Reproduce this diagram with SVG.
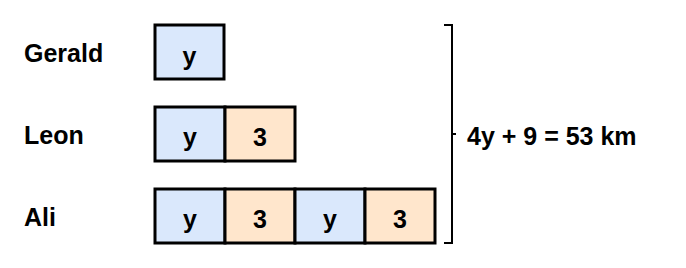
<svg xmlns="http://www.w3.org/2000/svg" width="686" height="268" viewBox="0 0 686 268">
<style>
.b{fill:#dae8fc;stroke:#000;stroke-width:3}
.o{fill:#ffe6cc;stroke:#000;stroke-width:3}
text{font-family:"Liberation Sans",Arial,sans-serif;font-weight:bold;font-size:25px;fill:#000}
.c{text-anchor:middle}
.br{fill:none;stroke:#000;stroke-width:2}
</style>
<rect width="686" height="268" fill="#fff"/>
<g id="gerald-label"><text x="24" y="62">Gerald</text></g>
<g id="leon-label"><text x="24" y="144">Leon</text></g>
<g id="ali-label"><text x="24" y="226">Ali</text></g>
<g id="gerald-y"><rect class="b" x="155" y="25" width="69" height="54"/><text class="c" x="189.5" y="65">y</text></g>
<g id="leon-y"><rect class="b" x="155" y="107" width="70" height="54"/><text class="c" x="190" y="146">y</text></g>
<g id="leon-3"><rect class="o" x="225" y="107" width="70" height="54"/><text class="c" x="260" y="146">3</text></g>
<g id="ali-y1"><rect class="b" x="155" y="189" width="70" height="54"/><text class="c" x="190" y="228">y</text></g>
<g id="ali-31"><rect class="o" x="225" y="189" width="70" height="54"/><text class="c" x="260" y="228">3</text></g>
<g id="ali-y2"><rect class="b" x="295" y="189" width="70" height="54"/><text class="c" x="330" y="228">y</text></g>
<g id="ali-32"><rect class="o" x="365" y="189" width="70" height="54"/><text class="c" x="400" y="228">3</text></g>
<g id="connectors"><path class="br" d="M444 25 H452 V243 H444 M452 134 H456"/></g>
<g id="total"><text x="467" y="145">4y + 9 = 53 km</text></g>
</svg>
